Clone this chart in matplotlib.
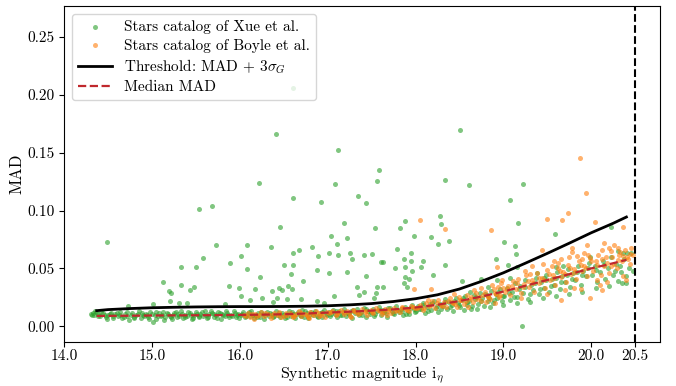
import matplotlib
matplotlib.use('Agg')
import matplotlib.pyplot as plt

plt.rcParams.update({
    'font.family': 'serif',
    'font.serif': ['cmr10'],
    'mathtext.fontset': 'cm',
    'axes.unicode_minus': False,
    'axes.formatter.use_mathtext': True,
    'font.size': 11,
})

# ── band of the Xue et al. stars (mag, MAD) ──────────────────────────────────
XUE_BAND = [
    (14.31, .0108), (14.33, .0116), (14.34, .0098), (14.36, .0122), (14.38, .0104), (14.41, .0086),
    (14.44, .0112), (14.47, .0078), (14.50, .0096), (14.53, .0118), (14.55, .0070), (14.58, .0102),
    (14.61, .0088), (14.63, .0124), (14.66, .0074), (14.69, .0108), (14.71, .0092), (14.74, .0058),
    (14.77, .0114), (14.79, .0084), (14.82, .0100), (14.85, .0128), (14.87, .0068), (14.90, .0094),
    (14.93, .0110), (14.95, .0080), (14.98, .0120), (15.01, .0040), (15.03, .0098), (15.05, .0066),
    (15.08, .0114), (15.10, .0088), (15.13, .0126), (15.15, .0076), (15.18, .0104), (15.20, .0092),
    (15.23, .0062), (15.25, .0118), (15.28, .0084), (15.30, .0108), (15.33, .0130), (15.35, .0072),
    (15.38, .0100), (15.40, .0090), (15.43, .0116), (15.45, .0060), (15.48, .0096), (15.50, .0122),
    (15.53, .0080), (15.55, .0106), (15.58, .0088), (15.60, .0134), (15.63, .0070), (15.65, .0102),
    (15.68, .0114), (15.70, .0084), (15.73, .0096), (15.75, .0124), (15.78, .0064), (15.80, .0108),
    (15.83, .0090), (15.85, .0118), (15.88, .0076), (15.90, .0100), (15.93, .0128), (15.95, .0082),
    (15.98, .0110),
    (14.32, .0094), (14.35, .0132), (14.39, .0090), (14.42, .0120), (14.46, .0100), (14.49, .0066),
    (14.52, .0106), (14.56, .0090), (14.60, .0116), (14.64, .0096), (14.68, .0082), (14.72, .0122),
    (14.76, .0098), (14.80, .0070), (14.84, .0110), (14.88, .0118), (14.91, .0086), (14.94, .0098),
    (14.97, .0064), (15.00, .0108), (15.04, .0122), (15.07, .0090), (15.11, .0100), (15.14, .0056),
    (15.17, .0118), (15.21, .0080), (15.24, .0098), (15.27, .0126), (15.31, .0090), (15.34, .0104),
    (15.37, .0082), (15.41, .0124), (15.44, .0096), (15.47, .0072), (15.51, .0110), (15.54, .0092),
    (15.57, .0120), (15.61, .0098), (15.64, .0082), (15.67, .0128), (15.71, .0104), (15.74, .0074),
    (15.77, .0112), (15.81, .0094), (15.84, .0132), (15.87, .0100), (15.91, .0086), (15.94, .0114),
    (15.97, .0096), (15.99, .0070),
    (16.01, .0094), (16.03, .0122), (16.06, .0078), (16.08, .0106), (16.11, .0088), (16.13, .0130),
    (16.16, .0068), (16.18, .0100), (16.21, .0116), (16.23, .0084), (16.26, .0108), (16.28, .0062),
    (16.31, .0124), (16.33, .0092), (16.36, .0104), (16.38, .0076), (16.41, .0136), (16.43, .0098),
    (16.46, .0082), (16.48, .0114), (16.51, .0070), (16.53, .0106), (16.56, .0128), (16.58, .0090),
    (16.61, .0110), (16.63, .0074), (16.66, .0120), (16.68, .0096), (16.71, .0140), (16.73, .0084),
    (16.76, .0112), (16.78, .0068), (16.81, .0124), (16.83, .0100), (16.86, .0132), (16.88, .0088),
    (16.91, .0116), (16.93, .0078), (16.96, .0138), (16.98, .0104),
    (16.02, .0110), (16.07, .0090), (16.10, .0120), (16.15, .0098), (16.19, .0080), (16.24, .0126),
    (16.29, .0094), (16.34, .0112), (16.39, .0086), (16.44, .0118), (16.49, .0100), (16.54, .0080),
    (16.59, .0124), (16.64, .0102), (16.69, .0086), (16.74, .0130), (16.79, .0098), (16.84, .0114),
    (16.89, .0076), (16.94, .0120), (16.99, .0094),
    (17.01, .0124), (17.03, .0092), (17.06, .0140), (17.08, .0108), (17.11, .0076), (17.13, .0130),
    (17.16, .0100), (17.18, .0150), (17.21, .0086), (17.23, .0118), (17.26, .0134), (17.28, .0072),
    (17.31, .0112), (17.33, .0146), (17.36, .0094), (17.38, .0126), (17.41, .0160), (17.43, .0084),
    (17.46, .0136), (17.48, .0108), (17.51, .0152), (17.53, .0090), (17.56, .0128), (17.58, .0166),
    (17.61, .0100), (17.63, .0140), (17.66, .0118), (17.68, .0082), (17.71, .0156), (17.73, .0132),
    (17.76, .0104), (17.78, .0172), (17.81, .0122), (17.83, .0148), (17.86, .0096), (17.88, .0164),
    (17.91, .0136), (17.93, .0110), (17.96, .0182), (17.98, .0150),
    (17.04, .0110), (17.09, .0128), (17.14, .0096), (17.19, .0120), (17.24, .0104), (17.29, .0140),
    (17.34, .0118), (17.39, .0098), (17.44, .0150), (17.49, .0124), (17.54, .0106), (17.59, .0144),
    (17.64, .0122), (17.69, .0160), (17.74, .0112), (17.79, .0142), (17.84, .0130), (17.89, .0108),
    (17.94, .0158), (17.99, .0126),
    (18.01, .0130), (18.03, .0176), (18.06, .0148), (18.08, .0204), (18.11, .0116), (18.13, .0168),
    (18.16, .0190), (18.18, .0140), (18.21, .0222), (18.23, .0160), (18.26, .0124), (18.28, .0196),
    (18.31, .0176), (18.33, .0234), (18.36, .0150), (18.38, .0208), (18.41, .0186), (18.43, .0132),
    (18.46, .0244), (18.48, .0200), (18.51, .0170), (18.53, .0226), (18.56, .0260), (18.58, .0184),
    (18.61, .0214), (18.63, .0150), (18.66, .0272), (18.68, .0232), (18.71, .0196), (18.73, .0290),
    (18.76, .0248), (18.78, .0172), (18.81, .0266), (18.83, .0222), (18.86, .0306), (18.88, .0200),
    (18.91, .0280), (18.93, .0240), (18.96, .0320), (18.98, .0218),
    (18.04, .0152), (18.09, .0182), (18.14, .0136), (18.19, .0200), (18.24, .0178), (18.29, .0150),
    (18.34, .0210), (18.39, .0166), (18.44, .0220), (18.49, .0180), (18.54, .0240), (18.59, .0206),
    (18.64, .0176), (18.69, .0250), (18.74, .0214), (18.79, .0280), (18.84, .0246), (18.89, .0226),
    (18.94, .0296), (18.99, .0258),
    (18.55, .0140), (18.70, .0150), (18.85, .0170), (18.62, .0300), (18.82, .0340),
    (19.01, .0262), (19.04, .0330), (19.07, .0226), (19.10, .0300), (19.13, .0372), (19.16, .0250),
    (19.19, .0344), (19.22, .0288), (19.25, .0400), (19.28, .0236), (19.31, .0360), (19.34, .0310),
    (19.37, .0420), (19.40, .0276), (19.43, .0384), (19.46, .0330), (19.49, .0446), (19.52, .0296),
    (19.55, .0410), (19.58, .0356), (19.61, .0470), (19.64, .0320), (19.67, .0430), (19.70, .0380),
    (19.73, .0496), (19.76, .0340), (19.79, .0456), (19.82, .0404), (19.85, .0520), (19.88, .0360),
    (19.91, .0476), (19.94, .0430), (19.97, .0546),
    (19.06, .0290), (19.12, .0256), (19.18, .0320), (19.24, .0340), (19.30, .0280), (19.36, .0370),
    (19.42, .0320), (19.48, .0396), (19.54, .0350), (19.60, .0420), (19.66, .0380), (19.72, .0440),
    (19.78, .0410), (19.84, .0470), (19.90, .0440), (19.96, .0500),
    (19.00, .0180), (19.15, .0200), (19.30, .0210), (19.45, .0240), (19.60, .0260), (19.75, .0280),
    (19.90, .0300), (19.08, .0420), (19.38, .0460), (19.68, .0520), (19.98, .0600),
    (20.01, .0440), (20.04, .0520), (20.07, .0380), (20.10, .0470), (20.13, .0560), (20.16, .0410),
    (20.19, .0500), (20.22, .0600), (20.25, .0440), (20.28, .0540), (20.31, .0390), (20.34, .0470),
    (20.37, .0580), (20.40, .0430), (20.43, .0500),
    (20.05, .0490), (20.15, .0530), (20.27, .0480), (20.33, .0520),
    (20.05, .0330), (20.20, .0350), (20.35, .0370), (20.30, .0650),
]

XUE_OUTLIERS = [
    (16.61, .2055), (16.41, .1665), (17.12, .1526), (17.58, .1347), (17.56, .1255), (16.22, .1238),
    (17.08, .1226), (16.60, .1108), (16.92, .1074), (17.35, .1128), (17.44, .1062), (16.46, .0860),
    (17.19, .0888), (17.54, .0848), (15.54, .1013), (15.68, .1042), (18.50, .1700), (18.33, .1260),
    (18.61, .1220), (19.22, .1230), (19.07, .1090), (17.88, .0910), (18.28, .0955), (18.29, .0880),
    (19.17, .0890), (17.82, .0850), (20.23, .0857),
    (14.49, .0727), (15.73, .0698), (16.08, .0698), (16.01, .0611), (15.58, .0594), (15.89, .0548),
    (15.33, .0511), (15.50, .0516), (16.08, .0499), (16.23, .0427), (15.13, .0381), (15.33, .0355),
    (15.48, .0338), (15.43, .0317), (15.19, .0308), (15.21, .0286), (15.88, .0349), (15.99, .0334),
    (16.17, .0326), (16.01, .0265), (16.25, .0245), (15.20, .0219), (15.31, .0202), (15.40, .0199),
    (15.01, .0193), (14.73, .0178), (15.83, .0190), (16.12, .0230),
    (17.04, .0776), (17.22, .0767), (17.98, .0776), (18.18, .0773), (18.38, .0739), (18.26, .0713),
    (16.35, .0684), (16.82, .0684), (16.67, .0658), (16.61, .0635), (17.10, .0710), (16.89, .0609),
    (17.01, .0632), (17.12, .0617), (17.25, .0632), (17.28, .0577), (17.41, .0617), (17.50, .0623),
    (17.61, .0557), (17.63, .0557), (17.79, .0667), (17.95, .0632), (17.87, .0583), (17.95, .0560),
    (18.09, .0560), (18.33, .0531), (16.50, .0528), (16.60, .0533), (17.88, .0516), (17.77, .0507),
    (17.96, .0481), (18.06, .0513), (16.88, .0485), (17.01, .0464), (17.22, .0473), (16.58, .0450),
    (17.43, .0438), (17.88, .0424), (17.93, .0410), (18.20, .0441), (16.72, .0390), (17.87, .0372),
    (16.55, .0349), (16.59, .0323), (16.44, .0334), (17.33, .0338), (17.56, .0340), (17.63, .0340),
    (17.90, .0343), (16.37, .0306), (16.48, .0317), (17.41, .0294), (17.55, .0286), (17.36, .0268),
    (17.07, .0260), (16.42, .0248), (16.54, .0236), (16.70, .0234), (16.38, .0213), (16.88, .0219),
    (16.96, .0202), (17.53, .0245),
    (19.59, .0799), (19.01, .0730), (19.13, .0695), (19.14, .0623), (18.92, .0585), (19.05, .0533),
    (19.15, .0511), (18.53, .0390), (18.74, .0410), (18.93, .0401), (19.46, .0420), (19.60, .0516),
    (20.48, .0481), (20.40, .0372), (19.21, .0000), (20.36, .0637), (20.41, .0632), (20.45, .0632),
]

# ── Boyle et al. stars (mag, MAD) ───────────────────────────────────────────
BOYLE_BAND = [
    (16.05, .0100), (16.09, .0118), (16.12, .0080), (16.17, .0110), (16.20, .0092), (16.24, .0126),
    (16.27, .0086), (16.32, .0104), (16.35, .0070), (16.39, .0112), (16.42, .0094), (16.45, .0120),
    (16.50, .0088), (16.54, .0098), (16.57, .0116), (16.60, .0078), (16.64, .0106), (16.67, .0128),
    (16.70, .0092), (16.74, .0110), (16.77, .0084), (16.80, .0120), (16.84, .0098), (16.87, .0134),
    (16.90, .0090), (16.94, .0112), (16.97, .0082),
    (16.07, .0090), (16.14, .0104), (16.22, .0098), (16.29, .0116), (16.37, .0094), (16.44, .0104),
    (16.52, .0112), (16.59, .0100), (16.62, .0092), (16.69, .0114), (16.76, .0100), (16.82, .0108),
    (16.89, .0118), (16.92, .0100), (16.99, .0122), (16.16, .0060), (16.47, .0076), (16.79, .0074),
    (17.02, .0112), (17.05, .0130), (17.09, .0098), (17.12, .0122), (17.15, .0140), (17.19, .0106),
    (17.22, .0128), (17.25, .0090), (17.29, .0144), (17.32, .0120), (17.35, .0104), (17.39, .0150),
    (17.42, .0126), (17.45, .0096), (17.49, .0140), (17.52, .0118), (17.55, .0158), (17.59, .0130),
    (17.62, .0108), (17.65, .0152), (17.69, .0136), (17.72, .0116), (17.75, .0162), (17.79, .0142),
    (17.82, .0120), (17.85, .0170), (17.89, .0148), (17.92, .0128), (17.95, .0176), (17.99, .0156),
    (17.04, .0120), (17.10, .0108), (17.17, .0126), (17.24, .0114), (17.30, .0132), (17.37, .0118),
    (17.44, .0136), (17.50, .0124), (17.57, .0142), (17.63, .0126), (17.70, .0148), (17.77, .0132),
    (17.84, .0154), (17.90, .0140), (17.97, .0164), (17.27, .0080), (17.67, .0096),
    (18.02, .0160), (18.05, .0188), (18.09, .0140), (18.12, .0200), (18.15, .0172), (18.19, .0214),
    (18.22, .0156), (18.25, .0230), (18.29, .0188), (18.32, .0206), (18.35, .0168), (18.39, .0242),
    (18.42, .0212), (18.45, .0190), (18.49, .0254), (18.52, .0224), (18.55, .0196), (18.59, .0270),
    (18.62, .0238), (18.65, .0206), (18.69, .0284), (18.72, .0250), (18.75, .0222), (18.79, .0300),
    (18.82, .0262), (18.85, .0236), (18.89, .0318), (18.92, .0278), (18.95, .0250), (18.99, .0334),
    (18.44, .0280), (18.74, .0330), (18.87, .0360), (18.97, .0370),
    (18.04, .0170), (18.10, .0160), (18.17, .0186), (18.24, .0200), (18.30, .0176), (18.37, .0220),
    (18.43, .0200), (18.50, .0230), (18.57, .0214), (18.63, .0252), (18.70, .0236), (18.77, .0270),
    (18.83, .0250), (18.90, .0290), (18.96, .0274), (18.14, .0230), (18.47, .0166), (18.67, .0310),
    (18.80, .0210), (18.94, .0340), (18.60, .0170), (18.90, .0200), (18.98, .0400),
    (19.02, .0300), (19.05, .0352), (19.08, .0270), (19.11, .0390), (19.14, .0322), (19.17, .0410),
    (19.20, .0286), (19.23, .0366), (19.26, .0440), (19.29, .0338), (19.32, .0396), (19.35, .0300),
    (19.38, .0460), (19.41, .0376), (19.44, .0420), (19.47, .0330), (19.50, .0484), (19.53, .0400),
    (19.56, .0444), (19.59, .0356), (19.62, .0506), (19.65, .0426), (19.68, .0470), (19.71, .0380),
    (19.74, .0530), (19.77, .0450), (19.80, .0494), (19.83, .0410), (19.86, .0560), (19.89, .0474),
    (19.92, .0520), (19.95, .0436), (19.98, .0590),
    (19.58, .0560), (19.66, .0580), (19.75, .0600), (19.84, .0610), (19.92, .0630), (19.96, .0615),
    (19.45, .0540), (19.33, .0520), (19.70, .0310), (19.88, .0320),
    (19.04, .0320), (19.10, .0346), (19.16, .0370), (19.22, .0340), (19.28, .0390), (19.34, .0370),
    (19.40, .0420), (19.46, .0400), (19.52, .0450), (19.58, .0420), (19.64, .0476), (19.70, .0450),
    (19.76, .0500), (19.82, .0470), (19.88, .0530), (19.94, .0500), (19.25, .0480), (19.55, .0520),
    (19.78, .0640), (19.90, .0580), (19.20, .0240), (19.50, .0280), (19.80, .0330), (19.30, .0450),
    (19.62, .0550), (19.95, .0700),
    (20.02, .0480), (20.05, .0560), (20.08, .0620), (20.11, .0440), (20.14, .0520), (20.17, .0600),
    (20.20, .0460), (20.23, .0650), (20.26, .0540), (20.29, .0500), (20.32, .0620), (20.35, .0560),
    (20.38, .0660), (20.41, .0600), (20.44, .0540), (20.47, .0620), (20.06, .0400), (20.18, .0380),
    (20.30, .0680), (20.12, .0660), (20.36, .0430),
    (20.00, .0560), (20.06, .0530), (20.12, .0580), (20.18, .0550), (20.24, .0600), (20.30, .0570),
    (20.36, .0610), (20.42, .0580), (20.22, .0520), (20.33, .0640), (20.10, .0360), (20.40, .0400),
    (20.26, .0700), (20.45, .0680), (20.15, .0720),
]

BOYLE_OUTLIERS = [
    (18.05, .0920), (18.33, .0840), (18.86, .0830), (19.87, .1457), (19.94, .1154), (19.73, .0975),
    (19.50, .0923), (19.67, .0918), (20.04, .0897), (20.36, .0860), (17.98, .0326), (18.17, .0320),
    (18.93, .0516), (19.44, .0660), (19.78, .0675), (20.20, .0672), (20.44, .0626), (19.98, .0242),
    (20.12, .0314), (19.66, .0228),
]

# ── threshold and median curves ─────────────────────────────────────────────
CURVE_MAG = [14.37, 14.5, 14.75, 15.0, 15.25, 15.5, 15.75, 16.0, 16.25, 16.5, 16.75, 17.0,
             17.25, 17.5, 17.75, 18.0, 18.25, 18.5, 18.75, 19.0, 19.25, 19.5, 19.75, 20.0,
             20.25, 20.4]
THRESHOLD = [.0135, .0144, .0153, .0160, .0164, .0167, .0169, .0170, .0170, .0171, .0173, .0177,
             .0185, .0196, .0214, .0238, .0272, .0322, .0388, .0462, .0545, .0630, .0718, .0808,
             .0890, .0944]
MEDIAN = [.0089, .0090, .0091, .0093, .0094, .0095, .0096, .0098, .0100, .0104, .0110, .0118,
          .0126, .0135, .0146, .0162, .0186, .0218, .0257, .0300, .0350, .0400, .0450, .0500,
          .0545, .0574]

MAG_LIMIT = 20.5
XTICKS = [14.0, 15.0, 16.0, 17.0, 18.0, 19.0, 20.0, 20.5]
YTICKS = [0.00, 0.05, 0.10, 0.15, 0.20, 0.25]


def main():
    xue = XUE_BAND + XUE_OUTLIERS
    boyle = BOYLE_BAND + BOYLE_OUTLIERS

    fig = plt.figure(figsize=(6.76, 3.86), dpi=100)
    ax = fig.add_axes([0.095, 0.114, 0.881, 0.870])

    ax.scatter([p[0] for p in xue], [p[1] for p in xue], s=13, color='tab:green',
               alpha=0.6, lw=0, label='Stars catalog of Xue et al.', zorder=2)
    ax.scatter([p[0] for p in boyle], [p[1] for p in boyle], s=13, color='tab:orange',
               alpha=0.6, lw=0, label='Stars catalog of Boyle et al.', zorder=2)
    ax.plot(CURVE_MAG, THRESHOLD, color='black', lw=2,
            label=r'Threshold: MAD + 3$\sigma_G$', zorder=3)
    ax.plot(CURVE_MAG, MEDIAN, color='#c0282d', lw=1.6, ls='--',
            label='Median MAD', zorder=3)
    ax.axvline(MAG_LIMIT, color='black', lw=1.5, ls='--', zorder=3)

    ax.set_xlim(14.0, 20.78)
    ax.set_ylim(-0.0136, 0.2766)
    ax.set_xticks(XTICKS)
    ax.set_xticklabels([f'{t:.1f}' for t in XTICKS])
    ax.set_yticks(YTICKS)
    ax.set_yticklabels([f'{t:.2f}' for t in YTICKS])
    ax.tick_params(axis='x', pad=2)
    ax.set_xlabel(r'Synthetic magnitude i$_\eta$', fontsize=11.6, labelpad=1)
    ax.set_ylabel('MAD', fontsize=12, labelpad=2)
    ax.legend(loc='upper left', fontsize=11, handlelength=2.2, borderpad=0.4,
              labelspacing=0.3)

    fig.savefig('out.png', dpi=100)


if __name__ == '__main__':
    main()
